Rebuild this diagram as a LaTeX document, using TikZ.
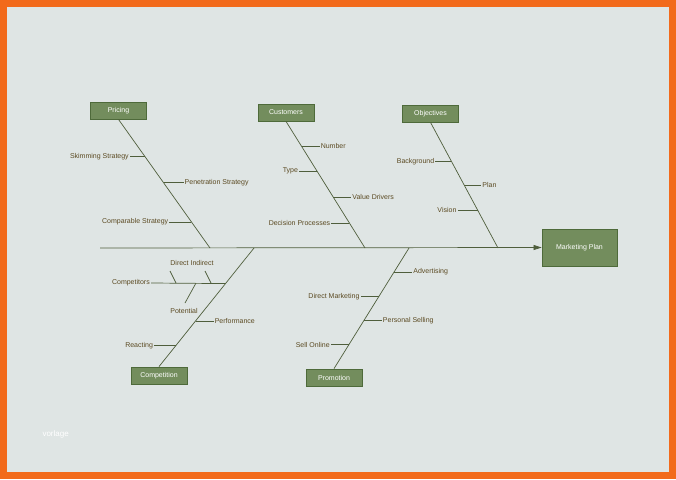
\documentclass[tikz,border=0pt]{standalone}
\usepackage{fontspec}
\setmainfont{Liberation Sans}
\usetikzlibrary{calc,arrows.meta}
\definecolor{bg}{HTML}{DFE5E4}
\definecolor{frame}{HTML}{F26A1B}
\definecolor{boxf}{HTML}{738D5D}
\definecolor{boxd}{HTML}{4E6A3A}
\definecolor{ln}{HTML}{4F5E3C}
\definecolor{tx}{HTML}{5B4A22}
\tikzset{
  cat/.style={draw=boxd,fill=boxf,text=white,font=\fontsize{7}{8}\selectfont,minimum width=56pt,minimum height=17pt,inner sep=0pt,line width=0.8pt},
  lab/.style={text=tx,font=\fontsize{7}{8}\selectfont,inner sep=1pt},
  bone/.style={draw=ln,line width=0.7pt},
}
\begin{document}
\begin{tikzpicture}[x=1pt,y=-1pt]
\fill[frame] (0,0) rectangle (676,479);
\fill[bg] (7,7) rectangle (669,472);
\useasboundingbox (0,0) rectangle (676,479);
\node[cat,minimum width=75pt,minimum height=37pt] (mp) at (579.5,247.5) {Marketing Plan};
\coordinate (s0) at (100,248);
\draw[bone,-{Triangle[length=8pt,width=5pt]}] (s0) -- (mp.west);
% Pricing
\node[cat] (pr) at (118.5,110.5) {Pricing};
\coordinate (p1) at (210,248);
\draw[bone] (pr.south) -- (p1);
\coordinate (pa) at ($(pr.south)!0.289!(p1)$);
\coordinate (pb) at ($(pr.south)!0.492!(p1)$);
\coordinate (pc) at ($(pr.south)!0.797!(p1)$);
\node[lab,anchor=east] (l1) at ($(pa)+(-15,0)$) {Skimming Strategy};
\node[lab,anchor=west] (l2) at ($(pb)+(20,0)$) {Penetration Strategy};
\node[lab,anchor=east] (l3) at ($(pc)+(-22,0)$) {Comparable Strategy};
\draw[bone] (pa) -- (l1.east); \draw[bone] (pb) -- (l2.west); \draw[bone] (pc) -- (l3.east);
% Customers
\node[cat] (cu) at (286,112.5) {Customers};
\coordinate (c1) at (365,248);
\draw[bone] (cu.south) -- (c1);
\coordinate (ca) at ($(cu.south)!0.197!(c1)$);
\coordinate (cb) at ($(cu.south)!0.394!(c1)$);
\coordinate (cc) at ($(cu.south)!0.598!(c1)$);
\coordinate (cd) at ($(cu.south)!0.803!(c1)$);
\node[lab,anchor=west] (m1) at ($(ca)+(18,0)$) {Number};
\node[lab,anchor=east] (m2) at ($(cb)+(-18,0)$) {Type};
\node[lab,anchor=west] (m3) at ($(cc)+(18,0)$) {Value Drivers};
\node[lab,anchor=east] (m4) at ($(cd)+(-18,0)$) {Decision Processes};
\draw[bone] (ca) -- (m1.west); \draw[bone] (cb) -- (m2.east); \draw[bone] (cc) -- (m3.west); \draw[bone] (cd) -- (m4.east);
% Objectives
\node[cat] (ob) at (430.5,113.5) {Objectives};
\coordinate (o1) at (498,248);
\draw[bone] (ob.south) -- (o1);
\coordinate (oa) at ($(ob.south)!0.310!(o1)$);
\coordinate (obb) at ($(ob.south)!0.500!(o1)$);
\coordinate (oc) at ($(ob.south)!0.698!(o1)$);
\node[lab,anchor=east] (n1) at ($(oa)+(-16,0)$) {Background};
\node[lab,anchor=west] (n2) at ($(obb)+(17,0)$) {Plan};
\node[lab,anchor=east] (n3) at ($(oc)+(-20,0)$) {Vision};
\draw[bone] (oa) -- (n1.east); \draw[bone] (obb) -- (n2.west); \draw[bone] (oc) -- (n3.east);
% Competition
\node[cat] (co) at (159,375.5) {Competition};
\coordinate (k1) at (254,248);
\draw[bone] (co.north) -- (k1);
\coordinate (ka) at ($(k1)!0.30!(co.north)$);
\coordinate (kb) at ($(k1)!0.615!(co.north)$);
\coordinate (kc) at ($(k1)!0.82!(co.north)$);
\node[lab,anchor=east] (q1) at (151,283) {Competitors};
\draw[bone] (ka) -- (q1.east);
\coordinate (qd) at (176,283); \coordinate (qi) at (211,283); \coordinate (qp) at (196,283);
\coordinate (qd2) at (170,271); \coordinate (qi2) at (205,271); \coordinate (qp2) at (185,303);
\draw[bone] (qd) -- (qd2); \draw[bone] (qi) -- (qi2); \draw[bone] (qp) -- (qp2);
\node[lab] (q2) at (192,263) {Direct Indirect};
\node[lab] (q3) at (184,311) {Potential};
\node[lab,anchor=west] (q4) at ($(kb)+(18,0)$) {Performance};
\node[lab,anchor=east] (q5) at ($(kc)+(-22,0)$) {Reacting};
\draw[bone] (kb) -- (q4.west); \draw[bone] (kc) -- (q5.east);
% Promotion
\node[cat] (po) at (334,377.5) {Promotion};
\coordinate (r1) at (409,248);
\draw[bone] (po.north) -- (r1);
\coordinate (ra) at ($(r1)!0.198!(po.north)$);
\coordinate (rb) at ($(r1)!0.405!(po.north)$);
\coordinate (rc) at ($(r1)!0.603!(po.north)$);
\coordinate (rd) at ($(r1)!0.802!(po.north)$);
\node[lab,anchor=west] (t1) at ($(ra)+(18,0)$) {Advertising};
\node[lab,anchor=east] (t2) at ($(rb)+(-18,0)$) {Direct Marketing};
\node[lab,anchor=west] (t3) at ($(rc)+(18,0)$) {Personal Selling};
\node[lab,anchor=east] (t4) at ($(rd)+(-18,0)$) {Sell Online};
\draw[bone] (ra) -- (t1.west); \draw[bone] (rb) -- (t2.east); \draw[bone] (rc) -- (t3.west); \draw[bone] (rd) -- (t4.east);
\node[text=white,font=\fontsize{8}{9}\selectfont,anchor=west] (vg) at (39,434) {vorlage};
\end{tikzpicture}
\end{document}
